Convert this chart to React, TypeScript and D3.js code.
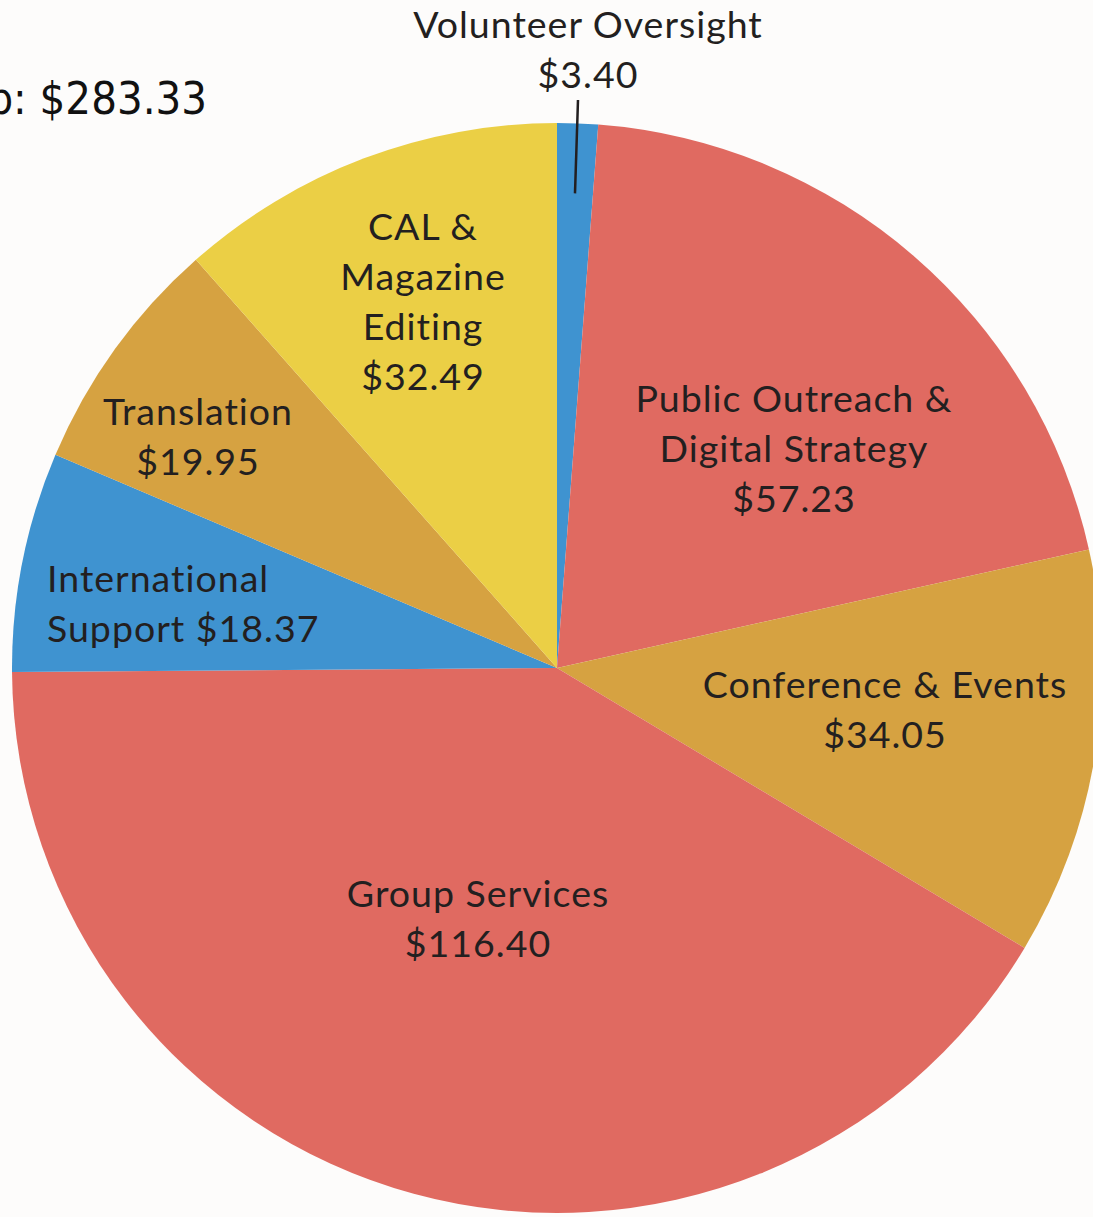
import React, { useEffect, useRef } from "react";
import * as d3 from "d3";

// slices clockwise from 12 o'clock
const categories = [
  "Volunteer Oversight",
  "Public Outreach & Digital Strategy",
  "Conference & Events",
  "Group Services",
  "International Support",
  "Translation",
  "CAL & Magazine Editing",
];
const amounts = [3.4, 57.23, 34.05, 116.4, 18.37, 19.95, 32.49];
const sliceColors = ["#3f93d0", "#e06a61", "#d6a241", "#e06a61", "#3f93d0", "#d6a241", "#ebcf45"];

// label lines as printed on the chart
const labelLines = [
  ["Volunteer Oversight", "$3.40"],
  ["Public Outreach &", "Digital Strategy", "$57.23"],
  ["Conference & Events", "$34.05"],
  ["Group Services", "$116.40"],
  ["International", "Support $18.37"],
  ["Translation", "$19.95"],
  ["CAL &", "Magazine", "Editing", "$32.49"],
];
const totalLabel = "Cost per Group: $283.33";

const W = 1093;
const H = 1217;

export default function App() {
  const ref = useRef<SVGSVGElement>(null);

  useEffect(() => {
    const svg = d3.select(ref.current);
    svg.selectAll("*").remove();

    const cx = 557, cy = 668, r = 545;
    const data = categories.map((c, i) => ({ name: c, value: amounts[i], color: sliceColors[i] }));

    const pie = d3.pie<any>().sort(null).value((d) => d.value);
    const arcs = pie(data);
    const arc = d3.arc<any>().innerRadius(0).outerRadius(r);

    svg.append("rect").attr("width", W).attr("height", H).attr("fill", "#fdfcfb");

    const g = svg.append("g").attr("transform", "translate(" + cx + "," + cy + ")");
    g.selectAll("path")
      .data(arcs)
      .enter().append("path")
      .attr("d", arc)
      .attr("fill", (d) => d.data.color);

    // label anchors (x, first baseline, text-anchor)
    const labelPos: [number, number, string][] = [
      [588, 38, "middle"],
      [794, 412, "middle"],
      [885, 698, "middle"],
      [478, 907, "middle"],
      [47, 592, "start"],
      [198, 425, "middle"],
      [423, 240, "middle"],
    ];
    const lineH = 50;

    const labels = svg.append("g")
      .attr("font-family", "Lato, 'Open Sans', sans-serif")
      .attr("font-size", 37.5)
      .attr("letter-spacing", 1)
      .attr("fill", "#231f20");

    labelLines.forEach((lines, i) => {
      const [x, y, anchor] = labelPos[i];
      const t = labels.append("text").attr("text-anchor", anchor);
      lines.forEach((ln, j) => {
        t.append("tspan").attr("x", x).attr("y", y + j * lineH).text(ln);
      });
    });

    // leader line for the tiny slice
    const small = arcs[0];
    const mid = (small.startAngle + small.endAngle) / 2;
    const innerR = 475;
    svg.append("line")
      .attr("x1", 578).attr("y1", 100)
      .attr("x2", cx + Math.sin(mid) * innerR)
      .attr("y2", cy - Math.cos(mid) * innerR)
      .attr("stroke", "#231f20")
      .attr("stroke-width", 2.5);

    svg.append("text")
      .attr("x", 207).attr("y", 114)
      .attr("text-anchor", "end")
      .attr("font-family", "'DejaVu Sans Condensed', 'DejaVu Sans', sans-serif")
      .attr("font-stretch", "condensed")
      .attr("font-size", 45)
      .attr("fill", "#111")
      .text(totalLabel);
  }, []);

  return (
    <svg ref={ref} width={W} height={H} style={{ position: "absolute", left: 0, top: 0 }} />
  );
}
